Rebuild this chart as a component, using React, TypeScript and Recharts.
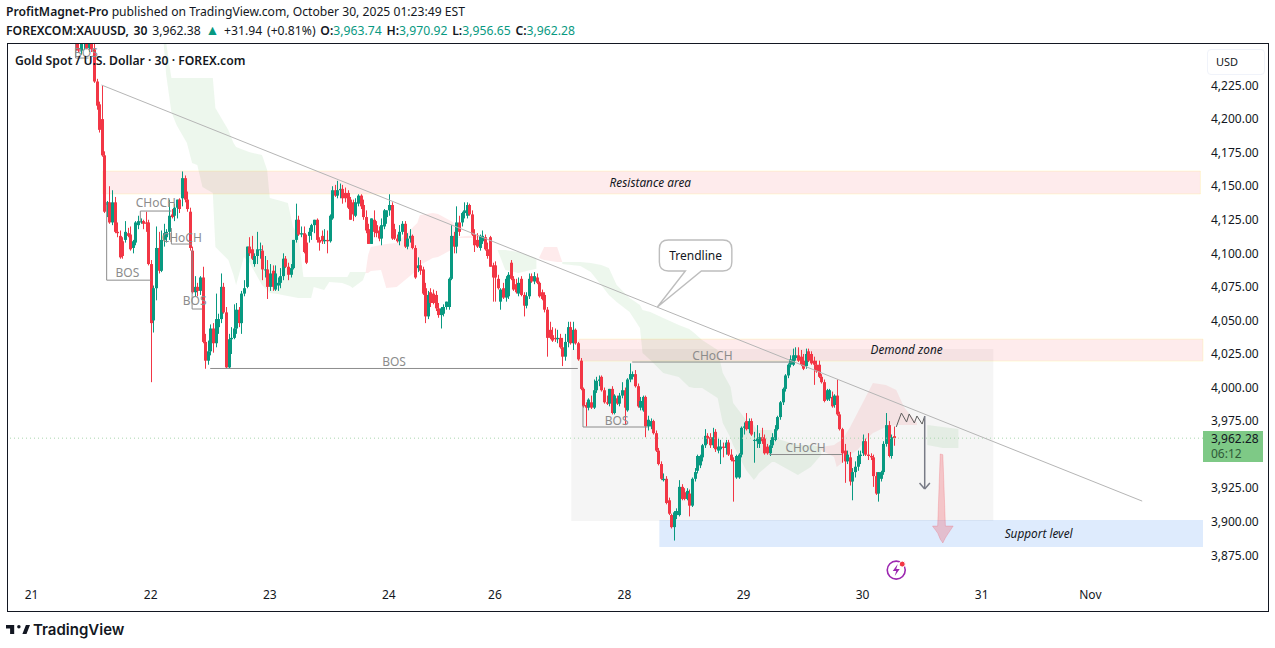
import React from 'react';
import { ComposedChart, Bar, Area, XAxis, YAxis, ReferenceArea, ReferenceLine, ReferenceDot } from 'recharts';

const SLOT_COUNT = 462;
const UP = '#089981';
const DOWN = '#F23645';
const FONT = '"Noto Sans", sans-serif';

// [open, high, low, close] runs, each with the slot of its first candle
const candlesOct21Start = 26;
const candlesOct21: number[][] = [
  [4256,4258,4251,4253],[4253,4258,4250,4251],[4251,4258,4248,4256],[4256,4258,4252,4257],[4257,4258,4252,4253],[4253,4258,4250,4257],
  [4257,4258,4250,4252],[4252,4256,4227,4228],[4228,4230,4207,4210],[4211,4213,4190,4192],[4200,4225,4172,4173],[4173,4176,4130,4131],[4136,4139,4127,4138],[4138,4150,4122,4123],[4123,4147,4121,4138],[4138,4142,4115,4116],
  [4116,4123,4112,4115],[4113,4117,4096,4097],[4109,4112,4096,4098],[4110,4124,4108,4116],[4115,4119,4112,4113],[4114,4120,4102,4103],[4104,4110,4100,4109],[4108,4124,4106,4123],[4121,4128,4118,4124],[4123,4126,4122,4124],
  [4124,4125,4118,4122],[4123,4131,4116,4122],[4123,4125,4091,4092],[4092,4095,4004,4048],[4050,4076,4041,4074],[4074,4120,4065,4104],[4104,4116,4085,4087],[4087,4117,4086,4110],[4110,4122,4105,4115],[4112,4118,4108,4116],
  [4116,4140,4110,4128],[4129,4133,4126,4127],[4128,4137,4124,4134],[4134,4140,4126,4140],[4140,4141,4130,4133],[4141,4161,4135,4156],[4156,4158,4138,4140],[4140,4146,4131,4133],[4131,4134,4102,4104],[4102,4105,4070,4071],
  [4071,4083,4068,4075],[4075,4078,4068,4072],[4072,4083,4069,4082],[4082,4090,4033,4034],[4034,4040,4014,4020],[4020,4035,4017,4027],[4027,4047,4024,4044],[4044,4048,4026,4033],[4033,4070,4030,4051],[4045,4055,4040,4051],
  [4051,4085,4048,4075],[4075,4078,4055,4056],[4056,4060,4014,4015],[4015,4040,4014,4036],[4036,4045,4025,4037],[4037,4062,4036,4044],[4044,4063,4040,4058],[4058,4060,4045,4048],[4048,4072,4040,4070],[4070,4080,4068,4074],
  [4075,4105,4074,4105],[4105,4112,4098,4100],[4103,4113,4095,4096],[4092,4100,4090,4098],[4098,4116,4092,4103],[4103,4108,4096,4103],[4102,4106,4080,4088],[4088,4098,4082,4088],[4088,4095,4066,4075],[4075,4092,4072,4085],
];
const candlesOct23Start = 102;
const candlesOct23: number[][] = [
  [4087,4091,4072,4075],[4073,4091,4072,4085],[4076,4082,4072,4078],[4078,4089,4074,4083],[4083,4100,4080,4096],[4096,4098,4089,4090],[4090,4093,4080,4084],[4084,4092,4082,4089],[4089,4110,4088,4110],[4110,4137,4108,4125],
  [4125,4128,4113,4114],[4114,4120,4112,4115],[4115,4120,4100,4101],[4108,4114,4092,4093],[4113,4119,4108,4116],[4116,4122,4110,4121],[4121,4125,4115,4125],[4125,4126,4108,4110],[4110,4112,4102,4108],[4113,4117,4107,4109],
  [4109,4118,4107,4110],[4110,4117,4100,4109],[4109,4129,4108,4128],[4126,4150,4125,4147],[4147,4151,4142,4143],[4143,4154,4141,4147],[4147,4152,4141,4148],[4148,4151,4137,4141],[4145,4149,4138,4141],[4145,4147,4133,4134],
  [4140,4142,4125,4125],[4138,4140,4124,4129],[4128,4141,4127,4138],[4137,4144,4135,4143],[4143,4144,4133,4135],[4136,4140,4125,4127],[4127,4132,4115,4117],[4118,4122,4107,4107],[4107,4126,4107,4126],[4125,4132,4112,4116],
  [4121,4124,4112,4115],[4117,4120,4109,4111],[4111,4126,4106,4121],[4120,4133,4118,4132],[4127,4132,4122,4132],[4132,4144,4128,4136],[4136,4138,4110,4111],[4118,4122,4110,4111],[4111,4114,4108,4109],[4109,4121,4106,4116],
  [4116,4124,4114,4122],[4122,4124,4104,4105],[4105,4115,4103,4111],[4111,4118,4108,4113],[4113,4114,4103,4104],[4104,4106,4081,4082],[4089,4097,4086,4091],[4091,4095,4084,4087],[4088,4090,4069,4070],[4074,4078,4048,4053],
  [4053,4072,4051,4069],[4071,4074,4060,4063],[4070,4073,4062,4063],[4069,4072,4057,4059],[4059,4063,4052,4054],[4054,4060,4044,4059],[4055,4062,4053,4060],[4060,4064,4058,4064],[4060,4082,4058,4081],[4081,4121,4080,4113],
  [4113,4116,4100,4105],[4105,4135,4100,4123],[4123,4128,4113,4116],[4123,4131,4120,4130],[4130,4138,4126,4132],[4128,4138,4126,4136],[4136,4137,4128,4129],[4129,4132,4113,4114],[4114,4118,4101,4106],[4110,4115,4104,4105],
  [4104,4114,4102,4113],[4109,4117,4107,4113],[4112,4114,4102,4103],[4103,4108,4096,4098],[4112,4113,4090,4090],[4091,4093,4064,4082],[4091,4094,4064,4082],[4081,4084,4073,4074],[4064,4074,4058,4073],[4074,4078,4066,4067],
  [4067,4083,4064,4081],[4068,4086,4066,4084],[4093,4095,4080,4081],[4081,4083,4072,4073],[4077,4081,4070,4071],[4070,4082,4068,4078],[4081,4083,4068,4069],[4069,4071,4053,4061],[4061,4071,4059,4068],[4068,4085,4066,4081],
  [4083,4085,4078,4079],[4079,4086,4077,4083],[4082,4085,4077,4078],[4078,4079,4067,4068],[4071,4073,4065,4066],[4069,4071,4056,4058],[4058,4060,4023,4037],[4043,4049,4036,4037],[4039,4045,4034,4035],[4037,4044,4034,4036],
  [4036,4043,4033,4037],[4037,4040,4029,4030],
];
const candlesOct27Start = 214;
const candlesOct27: number[][] = [
  [4030,4037,4016,4023],[4023,4040,4020,4034],[4034,4049,4030,4045],[4045,4049,4032,4033],[4033,4049,4028,4043],[4043,4044,4032,4033],[4033,4034,4020,4021],[4020,4022,3998,3999],[3999,4000,3985,3986],[3987,3989,3971,3985],
  [3985,3992,3983,3991],[3989,3994,3984,3985],[3985,4006,3984,3998],[3998,4008,3996,4005],[4005,4009,4001,4006],[4008,4009,3997,3998],[3998,4000,3988,3989],[3989,3994,3987,3988],[3988,3999,3986,3999],[3999,4001,3980,3981],
  [3981,3995,3980,3994],[3992,3994,3987,3988],[3988,3996,3986,3994],[3994,4004,3992,3998],[3998,4000,3972,3985],[3983,4007,3982,4006],[4006,4018,4004,4010],[4008,4012,4006,4010],[4010,4013,4000,4001],[4001,4003,3985,3986],
  [3985,3993,3983,3990],[3983,3994,3982,3993],[3993,3994,3963,3971],[3971,3979,3968,3976],[3971,3977,3969,3975],[3975,3976,3965,3966],[3966,3968,3952,3953],[3953,3955,3942,3943],[3943,3945,3931,3932],[3931,3936,3930,3932],
  [3932,3934,3913,3914],[3916,3918,3905,3906],[3905,3906,3895,3896],[3896,3908,3886,3907],[3905,3910,3902,3908],[3905,3931,3904,3926],[3926,3928,3916,3917],[3922,3925,3916,3917],[3917,3925,3916,3923],[3921,3924,3904,3912],
  [3912,3933,3911,3932],[3932,3940,3930,3937],[3938,3950,3936,3949],[3942,3950,3940,3949],[3948,3958,3945,3957],[3957,3969,3955,3964],[3964,3966,3958,3962],[3963,3966,3955,3957],[3957,3970,3955,3963],[3967,3969,3952,3954],
  [3953,3962,3951,3956],[3954,3961,3943,3956],[3956,3959,3948,3955],[3955,3961,3950,3959],[3959,3961,3949,3950],[3950,3954,3945,3946],[3946,3948,3915,3945],[3933,3950,3932,3949],[3933,3951,3932,3950],[3950,3971,3948,3970],
  [3970,3974,3965,3971],[3975,3981,3968,3969],[3969,3977,3966,3975],[3975,3977,3964,3965],[3961,3967,3944,3961],[3960,3972,3955,3962],[3958,3966,3955,3963],
];
const candlesOct29Start = 291;
const candlesOct29: number[][] = [
  [3963,3970,3958,3960],[3962,3965,3950,3951],[3956,3958,3950,3951],[3951,3961,3949,3957],[3957,3966,3955,3963],[3961,3972,3960,3969],[3969,3979,3968,3978],[3978,3990,3976,3989],[3989,4000,3987,3999],[3999,4010,3997,4009],
  [4009,4018,4007,4017],[4017,4024,4015,4021],[4017,4029,4016,4024],[4022,4030,4020,4024],[4024,4030,4019,4020],[4023,4028,4016,4017],[4020,4025,4013,4014],[4016,4029,4014,4025],[4027,4029,4019,4020],[4025,4027,4017,4018],
  [4020,4023,4002,4017],[4017,4020,4011,4012],[4017,4020,4007,4008],[4008,4010,4003,4004],[4004,4006,3989,3990],[3991,3999,3990,3998],[3992,3999,3990,3998],[3993,3997,3985,3986],[3987,3995,3985,3994],[3994,4006,3979,3980],
  [3980,3982,3968,3969],[3969,3970,3944,3951],[3953,3958,3929,3945],[3945,3953,3943,3950],[3948,3952,3927,3930],[3930,3940,3916,3937],[3937,3945,3933,3941],[3941,3953,3938,3949],[3949,3953,3943,3950],[3951,3965,3949,3960],
  [3960,3962,3949,3950],[3950,3966,3946,3949],[3949,3951,3946,3948],[3948,3950,3926,3934],[3934,3937,3920,3921],[3921,3937,3915,3937],[3932,3938,3930,3937],[3937,3960,3935,3958],[3958,3981,3956,3972],[3972,3975,3948,3949],
  [3949,3965,3947,3963],[3963.74,3970.92,3956.65,3962.28],
];

// cloud outlines: [slot, upper price, lower price]
const cloudGreenA = [[60,4256.7,4256.7],[61,4256.7,4232.8],[63,4230.6,4205.3],[65,4230.6,4195.6],[69,4230.6,4182.2],[71,4230.6,4167.3],[73,4230.6,4165.8],[75,4230.6,4149.4],[79,4230.6,4145],[80,4208.2,4104.7],[85,4191.9,4095],[87,4182.2,4083.8],[88,4179.2,4076.4],[91,4177,4097.2],[93,4175.5,4093.5],[98,4173.2,4076.4],[100,4162,4072.6],[101,4141.2,4070.4],[104,4139.7,4069.7],[108,4137.5,4068.2],[110,4119.6,4067.4],[112,4113.6,4066.7],[114,4082.3,4066.7],[117,4082.3,4066.7],[118,4082.3,4074.9],[122,4082.3,4072.6],[124,4082.3,4078.6],[129,4082.3,4077.9],[131,4082.3,4076.4],[132,4086,4075.6],[133,4086,4074.1],[137,4086,4080],[138,4086,4085.3]];
const cloudRedA = [[138,4085.3,4085.3],[139,4098.7,4085.3],[140,4104.7,4086.8],[144,4106.2,4087.6],[146,4107,4074.1],[150,4107.7,4074.9],[158,4122.6,4087.6],[159,4128.5,4091.3],[164,4130,4096.5],[166,4129.3,4097.2],[171,4124,4102.4],[172,4122.6,4111.4],[173,4112.1,4111.4],[181,4113.6,4111.4],[183,4112.1,4111.4]];
const cloudGreenB = [[189,4102.4,4102.4],[192,4102.4,4087.6],[197,4101,4085.3],[204,4096.5,4088.5]];
const cloudRedB = [[205,4096.5,4096.5],[207,4104.7,4095],[212,4104.7,4093.5],[214,4093.5,4093.5]];
const cloudGreenC = [[214,4093.5,4092],[221,4093.5,4090.5],[225,4092.8,4086],[229,4091.3,4076.4],[232,4089,4068.9],[235,4076.4,4063.7],[240,4066.7,4056.3],[244,4061.5,4044.4],[245,4057.7,4025.7],[248,4056.3,4020.5],[253,4051.8,4010.8],[259,4046.6,4007.8],[263,4043.6,4000.4],[265,4040.6,3999.6],[268,4035.4,3999.6],[274,4027.9,3992.2],[276,4010.8,3973.6],[279,4000.4,3962.4],[280,3988.5,3957.2],[285,3975.8,3938.6],[288,3972.1,3931.1],[289,3968.4,3933.3],[290,3968.4,3936.3],[295,3968.4,3944.5],[296,3962.4,3944.5],[305,3957.2,3934.8],[310,3957.2,3940.8],[314,3955.7,3949.7]];
const cloudRedC = [[314,3955.7,3953.5],[319,3957.2,3948.2],[320,3958.6,3940.8],[322,3960.9,3943.8],[325,3969.9,3949.7],[328,3981,3953.5],[332,3995.9,3962.4],[334,4003.4,3966.1],[339,4001.9,3970.6],[343,3998.2,3972.1],[346,3985.5,3972.1],[351,3973.6,3972.1]];
const cloudGreenD = [[355,3972.1,3957.2],[361,3970.6,3955],[367,3969.1,3955]];
const cloudList = [
  { key: 'cloudGreenA', rows: cloudGreenA, fill: '#4caf50' },
  { key: 'cloudRedA', rows: cloudRedA, fill: '#f23645' },
  { key: 'cloudGreenB', rows: cloudGreenB, fill: '#4caf50' },
  { key: 'cloudRedB', rows: cloudRedB, fill: '#f23645' },
  { key: 'cloudGreenC', rows: cloudGreenC, fill: '#4caf50' },
  { key: 'cloudRedC', rows: cloudRedC, fill: '#f23645' },
  { key: 'cloudGreenD', rows: cloudGreenD, fill: '#4caf50' },
];
const pinkArrow = [[357,3896.8,3896.8],[359,3896.8,3891.6],[360,3950.5,3887],[361,3950,3884.2],[362,3896.8,3888],[363,3896.8,3891],[365,3896.8,3896.8]];

const dayTicks = [9, 55, 101, 147, 188, 238, 284, 330, 376, 418];
const dayLabels = ['21', '22', '23', '24', '26', '28', '29', '30', '31', 'Nov'];
const priceTicks = [4225, 4200, 4175, 4150, 4125, 4100, 4075, 4050, 4025, 4000, 3975, 3925, 3900, 3875];

// [slot from, slot to, upper price, lower price, fill, edge]
const zones: [number, number, number, number, string, string][] = [
  [218, 380, 4028.7, 3900.6, 'rgba(128,128,128,0.08)', 'none'],
  [37, 460, 4161.3, 4144.2, 'rgba(242,54,69,0.1)', 'rgba(255,235,59,0.18)'],
  [221, 461, 4036.1, 4019.7, 'rgba(242,54,69,0.1)', 'rgba(255,235,59,0.18)'],
  [252, 461, 3901.3, 3881.2, 'rgba(33,120,240,0.15)', 'none'],
];
const GREY = '#8c8c8c';
// [slot a, price a, slot b, price b, colour, width]
const segments: [number, number, number, number, string, number][] = [
  [36, 4225.4, 438, 3915.4, '#b5b5b5', 1],
  [26, 4256.7, 26, 4245.5, GREY, 1],
  [26, 4245.5, 31, 4245.5, GREY, 1],
  [38, 4137.5, 38, 4080, GREY, 1],
  [38, 4080, 55, 4080, GREY, 1],
  [51, 4131.5, 51, 4123.3, GREY, 1],
  [51, 4131.5, 63, 4131.5, GREY, 1],
  [63, 4118.8, 63, 4106.9, GREY, 1],
  [63, 4106.9, 71, 4106.9, GREY, 1],
  [71, 4102.4, 71, 4058.5, GREY, 1],
  [71, 4058.5, 75, 4058.5, GREY, 1],
  [78, 4014.2, 220, 4014.2, GREY, 1],
  [222, 3987, 222, 3970.6, GREY, 1],
  [222, 3970.6, 247, 3970.6, GREY, 1],
  [241, 4019, 303, 4019, GREY, 1],
  [294, 3950.1, 322, 3950.1, GREY, 1],
  [343, 3970.6, 345, 3981, '#5d5d5d', 1],
  [345, 3981, 347, 3974.3, '#5d5d5d', 1],
  [347, 3974.3, 348, 3980.3, '#5d5d5d', 1],
  [348, 3980.3, 350, 3973.6, '#5d5d5d', 1],
  [350, 3973.6, 351, 3978.8, '#5d5d5d', 1],
  [351, 3978.8, 353, 3972.8, '#5d5d5d', 1],
  [353, 3972.8, 354, 3978.8, '#5d5d5d', 1],
  [354, 3978.8, 354, 3924.4, '#787b86', 1.5],
  [352, 3928.9, 354, 3924.4, '#787b86', 1.5],
  [356, 3928.9, 354, 3924.4, '#787b86', 1.5],
];
// [text, slot, price]
const structureLabels: [string, number, number][] = [
  ['BOS', 30, 4249.5], ['BOS', 46, 4086], ['CHoCH', 57, 4137.5], ['CHoCH', 67, 4112], ['BOS', 72, 4064.5],
  ['BOS', 149, 4019.7], ['BOS', 235, 3975.8], ['CHoCH', 272, 4024.2], ['CHoCH', 308, 3955.7],
];
const zoneLabels: [string, number, number][] = [
  ['Resistance area', 248, 4153.1], ['Demond zone', 347, 4028.7], ['Support level', 398, 3891.6],
];
const callout = { text: 'Trendline', from: 252, to: 279, top: 4109.9, bottom: 4086.8 };
const alertSlot = 343;
const alertPrice = 3864;
const lastPrice = 3962.28;
const lastPriceText = '3,962.28';
const countdown = '06:12';

const rows: any[] = Array.from({ length: SLOT_COUNT }, (_, slot) => ({ slot }));
const addCandles = (start: number, list: number[][]) =>
  list.forEach(([open, high, low, close], i) => {
    Object.assign(rows[start + i], { open, high, low, close, range: [low, high] });
  });
addCandles(candlesOct21Start, candlesOct21);
addCandles(candlesOct23Start, candlesOct23);
addCandles(candlesOct27Start, candlesOct27);
addCandles(candlesOct29Start, candlesOct29);
cloudList.forEach(({ key, rows: outline }) => outline.forEach(([s, up, lo]) => { rows[s][key] = [lo, up]; }));
pinkArrow.forEach(([s, up, lo]) => { rows[s].pinkArrow = [lo, up]; });

const Candle = (props: any) => {
  const { x, y, width, height, payload } = props;
  if (!payload || payload.high == null || !(height > 0)) return null;
  const { open, high, low, close } = payload;
  const k = height / (high - low);
  const color = close >= open ? UP : DOWN;
  const cx = Math.round(x + width / 2);
  const top = y + (high - Math.max(open, close)) * k;
  const bodyH = Math.max(1, Math.abs(close - open) * k);
  return (
    <g>
      <rect x={cx} y={y} width={1} height={height} fill={color} />
      <rect x={cx - 1} y={top} width={3} height={bodyH} fill={color} />
    </g>
  );
};

const Callout = (props: any) => {
  const { x, y, width: w, height: h } = props;
  const r = 9;
  const b = y + h;
  const d = `M${x + r} ${y}H${x + w - r}Q${x + w} ${y} ${x + w} ${y + r}V${b - r}Q${x + w} ${b} ${x + w - r} ${b}H${x + 42}L${x - 2} ${b + 36}L${x + 26} ${b}H${x + r}Q${x} ${b} ${x} ${b - r}V${y + r}Q${x} ${y} ${x + r} ${y}Z`;
  return (
    <g>
      <path d={d} fill="#fff" stroke="#bdbdbd" strokeWidth={1.4} />
      <text x={x + w / 2} y={y + h / 2} textAnchor="middle" dominantBaseline="central" fontFamily={FONT} fontSize={12} fill="#131722">{callout.text}</text>
    </g>
  );
};

const AlertIcon = ({ cx, cy }: any) => (
  <g>
    <circle cx={cx} cy={cy} r={9} fill="#fff" stroke="#9c27b0" strokeWidth={1.6} />
    <path d={`M${cx + 1.5} ${cy - 6}L${cx - 3.5} ${cy + 1}H${cx}L${cx - 1.5} ${cy + 6}L${cx + 3.5} ${cy - 1}H${cx}Z`} fill="#9c27b0" />
    <circle cx={cx + 6} cy={cy - 6} r={3} fill="#f23645" stroke="#fff" strokeWidth={1} />
  </g>
);

const labelShape = (text: string, color: string, size: number, italic: boolean) => ({ cx, cy }: any) => (
  <text x={cx} y={cy} textAnchor="middle" dominantBaseline="central" fontFamily={FONT} fontSize={size} fontStyle={italic ? 'italic' : 'normal'} fill={color}>{text}</text>
);

const abs = (left: number, top: number, extra: any = {}) => ({ position: 'absolute' as const, left, top, whiteSpace: 'nowrap' as const, ...extra });
const teal = { color: UP };
const b = { fontWeight: 600 };

export default function App() {
  return (
    <div style={{ position: 'absolute', left: 0, top: 0, width: 1275, height: 648, overflow: 'hidden', background: '#fff', fontFamily: FONT, color: '#131722' }}>
      <div style={abs(6, 3, { fontSize: 12.15, lineHeight: '17px' })}>
        <span style={b}>ProfitMagnet-Pro</span> published on TradingView.com, October 30, 2025 01:23:49 EST
      </div>
      <div style={abs(6, 21, { fontSize: 12.2, lineHeight: '17px', wordSpacing: 1.6 })}>
        <span style={b}>FOREXCOM:XAUUSD, 30</span> 3,962.38 <span style={{ ...teal, fontSize: 14 }}>▲</span> +31.94 (+0.81%) <span style={b}>O:</span><span style={teal}>3,963.74</span> <span style={b}>H:</span><span style={teal}>3,970.92</span> <span style={b}>L:</span><span style={teal}>3,956.65</span> <span style={b}>C:</span><span style={teal}>3,962.28</span>
      </div>
      <div style={{ position: 'absolute', left: 0, top: 0 }}>
        <ComposedChart width={1275} height={648} data={rows} margin={{ top: 43, right: 0, bottom: 37, left: 7 }} barCategoryGap={0} barGap={0}>
          <XAxis dataKey="slot" type="category" ticks={dayTicks} interval={0} height={33} axisLine={false} tickLine={false} tickMargin={6}
            tickFormatter={(v: number) => dayLabels[dayTicks.indexOf(v)]} tick={{ fill: '#131722', fontSize: 12, fontFamily: FONT }} />
          <YAxis orientation="right" type="number" domain={[3858.1, 4256.7]} allowDataOverflow ticks={priceTicks} interval={0} width={72} axisLine={false} tickLine={false} tickMargin={2}
            tickFormatter={(v: number) => v.toLocaleString('en-US', { minimumFractionDigits: 2 })} tick={{ fill: '#131722', fontSize: 12, fontFamily: FONT }} />
          {cloudList.map((c) => (
            <Area key={c.key} dataKey={c.key} type="linear" connectNulls stroke="none" fill={c.fill} fillOpacity={0.1} dot={false} activeDot={false} isAnimationActive={false} />
          ))}
          {structureLabels.map(([t, s, p], i) => (
            <ReferenceDot key={'sl' + i} x={s} y={p} r={0} shape={labelShape(t, GREY, 12, false)} />
          ))}
          <Bar dataKey="range" shape={<Candle />} isAnimationActive={false} />
          {zones.map(([a, z, up, lo, fill, edge], i) => (
            <ReferenceArea key={'z' + i} x1={a} x2={z} y1={lo} y2={up} fill={fill} fillOpacity={1} stroke={edge} />
          ))}
          <ReferenceLine y={lastPrice} stroke="#a9d6ae" strokeDasharray="1 3" />
          {segments.map(([s1, p1, s2, p2, color, w], i) => (
            <ReferenceLine key={'s' + i} segment={[{ x: s1, y: p1 }, { x: s2, y: p2 }]} stroke={color} strokeWidth={w} />
          ))}
          <Area dataKey="pinkArrow" type="linear" connectNulls stroke="#f23645" strokeOpacity={0.2} fill="#f23645" fillOpacity={0.25} dot={false} activeDot={false} isAnimationActive={false} />
          {zoneLabels.map(([t, s, p], i) => (
            <ReferenceDot key={'zl' + i} x={s} y={p} r={0} shape={labelShape(t, '#131722', 11.8, true)} />
          ))}
          <ReferenceArea x1={callout.from} x2={callout.to} y1={callout.bottom} y2={callout.top} shape={<Callout />} />
          <ReferenceDot x={alertSlot} y={alertPrice} r={9} shape={<AlertIcon />} />
        </ComposedChart>
      </div>
      <div style={abs(7, 43, { width: 1260, height: 567, border: '1px solid #131722', pointerEvents: 'none' })} />
      <div style={abs(15, 52, { fontSize: 12.2, fontWeight: 600, lineHeight: '17px' })}>Gold Spot / U.S. Dollar · 30 · FOREX.com</div>
      <div style={abs(1207, 49, { width: 48, height: 24, paddingLeft: 8, border: '1px solid #f0f3fa', borderRadius: 4, fontSize: 11, lineHeight: '24px', background: '#fff' })}>USD</div>
      <div style={abs(1203, 431, { width: 52, height: 31, paddingLeft: 8, background: '#7ec986', fontSize: 12, lineHeight: '15px' })}>
        <div>{lastPriceText}</div>
        <div style={{ color: '#2f5a38' }}>{countdown}</div>
      </div>
      <svg style={{ position: 'absolute', left: 6, top: 623 }} width={24} height={13} viewBox="0 6 41 15">
        <path d="M14 6H0v6h7v9h7V6zm14 15 6-15h7l-6 15h-7zm-6-9a3 3 0 1 0 0-6 3 3 0 0 0 0 6z" fill="#131722" />
      </svg>
      <div style={abs(33, 620, { fontFamily: 'Inter, sans-serif', fontSize: 15, fontWeight: 600, lineHeight: '20px' })}>TradingView</div>
    </div>
  );
}
